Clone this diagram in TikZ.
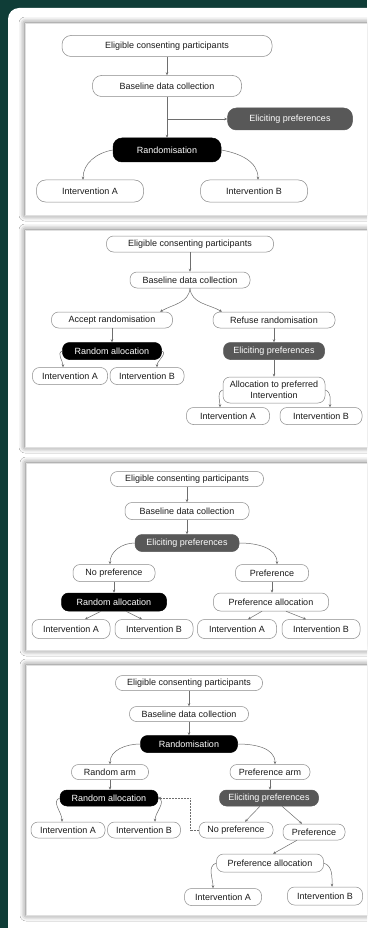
\documentclass[tikz,border=0pt]{standalone}
\usepackage{fontspec}
\setmainfont{Liberation Sans}
\usetikzlibrary{arrows.meta,shadows.blur,calc}
\definecolor{bggreen}{HTML}{0F3D37}
\definecolor{boxline}{HTML}{8A8A8A}
\definecolor{txt}{HTML}{1A1A1A}
\definecolor{greyfill}{HTML}{585858}
\definecolor{linecol}{HTML}{6E6E6E}
\tikzset{
  pill/.style={draw=boxline, line width=0.5pt, fill=white, text=txt, rounded corners=7pt,
    inner sep=0pt, align=center, font=\fontsize{9}{10.5}\selectfont},
  bigpill/.style={pill, rounded corners=9pt},
  blackpill/.style={fill=black, draw=black, text=white},
  greypill/.style={fill=greyfill, draw=greyfill, text=white},
  arr/.style={draw=linecol, line width=0.5pt, -{Stealth[length=3pt,width=2.6pt]}},
  card/.style={fill=white, draw=black!12, line width=0.4pt, blur shadow={shadow xshift=0pt, shadow yshift=0pt, shadow blur radius=6pt, shadow opacity=60}},
}
\begin{document}
\begin{tikzpicture}[x=1pt,y=-1pt]
\useasboundingbox (0,0) rectangle (367,928);
\clip (0,0) rectangle (367,928);
\fill[bggreen] (0,0) rectangle (367,928);
\fill[white, rounded corners=11pt] (8,8) rectangle (400,960);
% cards
\path[card] (25,23) rectangle (390,215);
\path[card] (25,230) rectangle (390,447);
\path[card] (26,463) rectangle (390,650);
\path[card] (26,665) rectangle (390,915);

% ---------- Card 1 ----------
\node[bigpill, minimum width=210pt, minimum height=21pt] (e1) at (167,46) {Eligible consenting participants};
\node[bigpill, minimum width=149pt, minimum height=21pt] (b1) at (167,86) {Baseline data collection};
\node[bigpill, greypill, minimum width=125pt, minimum height=22pt] (ep1) at (290,119) {Eliciting preferences};
\node[bigpill, blackpill, minimum width=108pt, minimum height=24pt] (r1) at (167,150) {Randomisation};
\node[bigpill, minimum width=107pt, minimum height=22pt] (ia1) at (90,191) {Intervention A};
\node[bigpill, minimum width=107pt, minimum height=22pt] (ib1) at (254,191) {Intervention B};
\coordinate (j1) at (b1 |- ep1);
\draw[arr] (e1.south) -- (b1.north);
\draw[arr] (b1.south) -- (r1.north);
\draw[arr] (j1) -- (ep1.west);
\draw[arr] (r1.west) to[out=190,in=90] ([xshift=-7pt]ia1.north);
\draw[arr] (r1.east) to[out=-10,in=90] ([xshift=4pt]ib1.north);

% ---------- Card 2 ----------
\node[pill, minimum width=167pt, minimum height=16pt] (e2) at (190,244) {Eligible consenting participants};
\node[pill, minimum width=120pt, minimum height=16pt] (b2) at (190,280) {Baseline data collection};
\node[pill, minimum width=121pt, minimum height=16pt] (ac2) at (112,320) {Accept randomisation};
\node[pill, minimum width=122pt, minimum height=16pt] (rf2) at (274,320) {Refuse randomisation};
\node[pill, blackpill, minimum width=99pt, minimum height=17pt] (ra2) at (112,351) {Random allocation};
\node[pill, greypill, minimum width=101pt, minimum height=17pt] (ep2) at (274,351) {Eliciting preferences};
\node[pill, minimum width=75pt, minimum height=17pt] (ia2) at (70,376) {Intervention A};
\node[pill, minimum width=74pt, minimum height=17pt] (ib2) at (147,376) {Intervention B};
\node[pill, minimum width=102pt, minimum height=26pt] (al2) at (274,390) {Allocation to preferred\\Intervention};
\node[pill, minimum width=83pt, minimum height=17pt] (ia2r) at (228,416) {Intervention A};
\node[pill, minimum width=82pt, minimum height=17pt] (ib2r) at (321,416) {Intervention B};
\draw[arr] (e2.south) -- (b2.north);
\draw[arr] (b2.south) to[out=-95,in=30] ([xshift=48pt]ac2.north);
\draw[arr] (b2.south) to[out=-85,in=150] ([xshift=-52pt]rf2.north);
\draw[arr] (ac2.south) -- (ra2.north);
\draw[arr] (rf2.south) -- (ep2.north);
\draw[arr] (ep2.south) -- (al2.north);
\draw[arr] (ra2.west) to[out=200,in=90] ([xshift=-7pt]ia2.north);
\draw[arr] (ra2.east) to[out=-20,in=90] ([xshift=10pt]ib2.north);
\draw[arr] (al2.west) to[out=200,in=90] ([xshift=-8pt]ia2r.north);
\draw[arr] (al2.east) to[out=-20,in=90] ([xshift=9pt]ib2r.north);

% ---------- Card 3 ----------
\node[pill, minimum width=153pt, minimum height=15pt] (e3) at (187,479) {Eligible consenting participants};
\node[pill, minimum width=124pt, minimum height=17pt] (b3) at (187,511) {Baseline data collection};
\node[pill, greypill, minimum width=104pt, minimum height=17pt] (ep3) at (187,543) {Eliciting preferences};
\node[pill, minimum width=82pt, minimum height=17pt] (np3) at (114,573) {No preference};
\node[pill, minimum width=73pt, minimum height=17pt] (pf3) at (272,573) {Preference};
\node[pill, blackpill, minimum width=105pt, minimum height=18pt] (ra3) at (114,602) {Random allocation};
\node[pill, minimum width=115pt, minimum height=18pt] (pa3) at (271,602) {Preference allocation};
\node[pill, minimum width=78pt, minimum height=19pt] (ia3) at (71,629) {Intervention A};
\node[pill, minimum width=78pt, minimum height=19pt] (ib3) at (154,629) {Intervention B};
\node[pill, minimum width=79pt, minimum height=19pt] (ia3r) at (237,629) {Intervention A};
\node[pill, minimum width=78pt, minimum height=19pt] (ib3r) at (321,629) {Intervention B};
\draw[arr] (e3.south) -- (b3.north);
\draw[arr] (b3.south) -- (ep3.north);
\draw[arr] (ep3.west) to[out=180,in=90] ([xshift=-4pt]np3.north);
\draw[arr] (ep3.east) to[out=0,in=90] ([xshift=5pt]pf3.north);
\draw[arr] (np3.south) -- (ra3.north);
\draw[arr] (pf3.south) -- ([xshift=1pt]pa3.north);
\draw[arr] ([xshift=-13pt]ra3.south) -- ([xshift=14pt]ia3.north);
\draw[arr] ([xshift=12pt]ra3.south) -- ([xshift=-12pt]ib3.north);
\draw[arr] ([xshift=-9pt]pa3.south) -- ([xshift=11pt]ia3r.north);
\draw[arr] ([xshift=15pt]pa3.south) -- ([xshift=-15pt]ib3r.north);

% ---------- Card 4 ----------
\node[pill, minimum width=147pt, minimum height=15pt] (e4) at (189,683) {Eligible consenting participants};
\node[pill, minimum width=119pt, minimum height=15pt] (b4) at (189,714) {Baseline data collection};
\node[pill, blackpill, minimum width=97pt, minimum height=17pt] (r4) at (189,744) {Randomisation};
\node[pill, minimum width=77pt, minimum height=15pt] (ram4) at (110,772) {Random arm};
\node[pill, minimum width=80pt, minimum height=15pt] (pam4) at (270,772) {Preference arm};
\node[pill, blackpill, minimum width=98pt, minimum height=16pt] (ra4) at (109,798) {Random allocation};
\node[pill, greypill, minimum width=99pt, minimum height=16pt] (ep4) at (269,798) {Eliciting preferences};
\node[pill, minimum width=74pt, minimum height=16pt] (ia4) at (68,830) {Intervention A};
\node[pill, minimum width=73pt, minimum height=16pt] (ib4) at (144,830) {Intervention B};
\node[pill, minimum width=74pt, minimum height=16pt] (np4) at (236,830) {No preference};
\node[pill, minimum width=62pt, minimum height=16pt] (pf4) at (314,832) {Preference};
\node[pill, minimum width=107pt, minimum height=18pt] (pa4) at (270,863) {Preference allocation};
\node[pill, minimum width=77pt, minimum height=17pt] (ia4r) at (223,897) {Intervention A};
\node[pill, minimum width=75pt, minimum height=18pt] (ib4r) at (325,896) {Intervention B};
\draw[arr] (e4.south) -- (b4.north);
\draw[arr] (b4.south) -- (r4.north);
\draw[arr] (r4.west) to[out=180,in=90] (ram4.north);
\draw[arr] (r4.east) to[out=0,in=90] ([xshift=5pt]pam4.north);
\draw[arr] (ram4.south) -- ([xshift=1pt]ra4.north);
\draw[arr] (pam4.south) -- ([xshift=1pt]ep4.north);
\draw[arr] (ra4.west) to[out=200,in=90] ([xshift=-6pt]ia4.north);
\draw[arr] (ra4.east) to[out=-20,in=90] ([xshift=11pt]ib4.north);
\draw[arr] ([xshift=-9pt]ep4.south) -- ([xshift=9pt]np4.north);
\draw[arr] ([xshift=13pt]ep4.south) -- ([xshift=-12pt]pf4.north);
\draw[arr] ([xshift=-17pt]pf4.south) -- ([xshift=3pt]pa4.north);
\draw[arr] (pa4.west) to[out=200,in=90] ([xshift=-10pt]ia4r.north);
\draw[arr] (pa4.east) to[out=-20,in=90] ([xshift=7pt]ib4r.north);
\draw[arr, densely dotted] (np4.west) -- ++(-9,0) |- (ra4.east);
\end{tikzpicture}
\end{document}
